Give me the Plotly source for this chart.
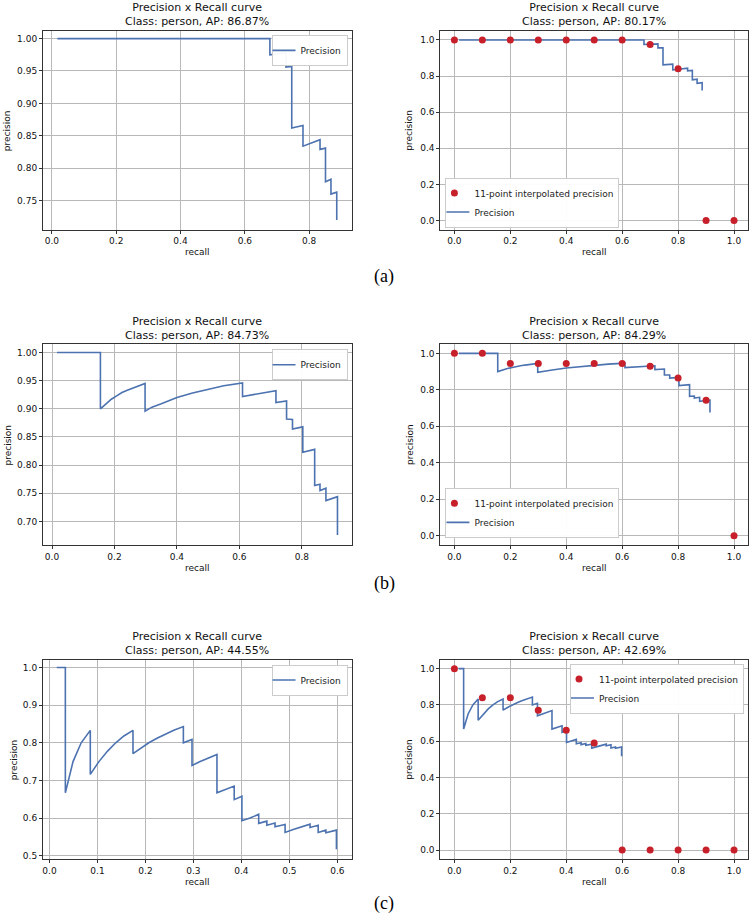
import plotly.graph_objects as go

W, H = 752, 921

# ---------------- data ----------------
recall_a = [0.017, 0.678, 0.678, 0.728, 0.728, 0.746, 0.746, 0.781, 0.781, 0.834, 0.834,
            0.851, 0.851, 0.868, 0.868, 0.886, 0.886]
precision_a = [1.0, 1.0, 0.975, 0.978, 0.956, 0.957, 0.862, 0.866, 0.834, 0.844, 0.829,
               0.831, 0.779, 0.783, 0.760, 0.763, 0.720]

recall_b = [0.016, 0.155, 0.155, 0.172, 0.190, 0.207, 0.224, 0.241, 0.259, 0.276, 0.298,
            0.298, 0.320, 0.350, 0.400, 0.450, 0.500, 0.550, 0.610, 0.610, 0.717, 0.717,
            0.751, 0.751, 0.770, 0.770, 0.803, 0.803, 0.841, 0.841, 0.858, 0.858, 0.877,
            0.877, 0.914, 0.914]
precision_b = [1.0, 1.0, 0.900, 0.909, 0.917, 0.923, 0.929, 0.933, 0.937, 0.941, 0.945,
               0.896, 0.903, 0.909, 0.920, 0.928, 0.935, 0.941, 0.946, 0.922, 0.932, 0.911,
               0.914, 0.882, 0.881, 0.864, 0.868, 0.823, 0.828, 0.764, 0.766, 0.755, 0.759,
               0.737, 0.744, 0.676]

recall_c = [0.015, 0.033, 0.033, 0.049, 0.066, 0.085, 0.085, 0.103, 0.121, 0.138, 0.155,
            0.174, 0.174, 0.190, 0.207, 0.224, 0.241, 0.259, 0.279, 0.279, 0.297, 0.297,
            0.314, 0.331, 0.349, 0.349, 0.367, 0.385, 0.385, 0.401, 0.401, 0.418, 0.436,
            0.436, 0.453, 0.453, 0.470, 0.470, 0.491, 0.491, 0.508, 0.525, 0.543, 0.543,
            0.560, 0.560, 0.576, 0.576, 0.598, 0.598]
precision_c = [1.0, 1.0, 0.667, 0.750, 0.800, 0.833, 0.716, 0.750, 0.778, 0.800, 0.818,
               0.833, 0.771, 0.786, 0.800, 0.812, 0.823, 0.833, 0.843, 0.800, 0.809, 0.740,
               0.750, 0.760, 0.769, 0.667, 0.677, 0.685, 0.649, 0.658, 0.593, 0.600, 0.610,
               0.586, 0.592, 0.581, 0.587, 0.577, 0.583, 0.562, 0.570, 0.577, 0.584, 0.575,
               0.581, 0.562, 0.568, 0.561, 0.568, 0.517]

interp_recall = [0.0, 0.1, 0.2, 0.3, 0.4, 0.5, 0.6, 0.7, 0.8, 0.9, 1.0]
interp_a = [1.0, 1.0, 1.0, 1.0, 1.0, 1.0, 1.0, 0.975, 0.84, 0.0, 0.0]
interp_b = [1.0, 1.0, 0.945, 0.945, 0.945, 0.945, 0.945, 0.93, 0.865, 0.743, 0.0]
interp_c = [1.0, 0.84, 0.84, 0.77, 0.66, 0.59, 0.0, 0.0, 0.0, 0.0, 0.0]

ap_labels = ["86.87%", "80.17%", "84.73%", "84.29%", "44.55%", "42.69%"]
captions = ["(a)", "(b)", "(c)"]

BLUE = "#4c72b0"
RED = "#c8202a"
FONT = "DejaVu Sans"

# ---------------- layout geometry (pixels) ----------------
cols = [(42, 351), (440, 748)]
rows = [(31, 230), (345, 546), (661, 861)]


def px(x):
    return x / W


def py(y):
    return 1 - y / H


fig = go.Figure()

panels = [
    # (curve_x, curve_y, interp, xrange, yrange, xticks, yticks, xfmt, yfmt)
    (recall_a, precision_a, None, [-0.028, 0.932], [0.7054, 1.0118],
     [0, 0.2, 0.4, 0.6, 0.8], [0.75, 0.80, 0.85, 0.90, 0.95, 1.00], ".1f", ".2f"),
    (recall_a, precision_a, interp_a, [-0.05, 1.05], [-0.05, 1.05],
     [0, 0.2, 0.4, 0.6, 0.8, 1.0], [0, 0.2, 0.4, 0.6, 0.8, 1.0], ".1f", ".1f"),
    (recall_b, precision_b, None, [-0.029, 0.959], [0.6585, 1.0147],
     [0, 0.2, 0.4, 0.6, 0.8], [0.70, 0.75, 0.80, 0.85, 0.90, 0.95, 1.00], ".1f", ".2f"),
    (recall_b, precision_b, interp_b, [-0.05, 1.05], [-0.05, 1.05],
     [0, 0.2, 0.4, 0.6, 0.8, 1.0], [0, 0.2, 0.4, 0.6, 0.8, 1.0], ".1f", ".1f"),
    (recall_c, precision_c, None, [-0.0137, 0.6295], [0.491, 1.021],
     [0, 0.1, 0.2, 0.3, 0.4, 0.5, 0.6], [0.5, 0.6, 0.7, 0.8, 0.9, 1.0], ".1f", ".1f"),
    (recall_c, precision_c, interp_c, [-0.05, 1.05], [-0.05, 1.05],
     [0, 0.2, 0.4, 0.6, 0.8, 1.0], [0, 0.2, 0.4, 0.6, 0.8, 1.0], ".1f", ".1f"),
]

ylabel_x = [6, 409, 7, 409, 13, 409]

annotations = []
layout_axes = {}

for i, (cx, cy, interp, xr, yr, xt, yt, xf, yf) in enumerate(panels):
    n = i + 1
    r, c = divmod(i, 2)
    x0, x1 = cols[c]
    y0, y1 = rows[r]
    xa = "x" if n == 1 else f"x{n}"
    ya = "y" if n == 1 else f"y{n}"
    lg = "legend" if n == 1 else f"legend{n}"

    fig.add_trace(go.Scatter(
        x=cx, y=cy, mode="lines", name="Precision",
        line=dict(color=BLUE, width=1.6), xaxis=xa, yaxis=ya,
        legend=lg, legendrank=2, showlegend=True))
    if interp is not None:
        fig.add_trace(go.Scatter(
            x=interp_recall, y=interp, mode="markers",
            name="11-point interpolated precision",
            marker=dict(color=RED, size=7), xaxis=xa, yaxis=ya,
            legend=lg, legendrank=1, showlegend=True))

    axis_common = dict(
        showgrid=True, gridcolor="#b8b8b8", gridwidth=1,
        showline=True, linecolor="#333333", linewidth=1, mirror=True,
        ticks="outside", ticklen=3, tickcolor="#333333",
        tickfont=dict(family=FONT, size=9, color="#111111"),
        zeroline=False, fixedrange=True,
    )
    layout_axes[("xaxis" if n == 1 else f"xaxis{n}")] = dict(
        axis_common, domain=[px(x0), px(x1)], range=xr, tickvals=xt,
        tickformat=xf, anchor=ya)
    layout_axes[("yaxis" if n == 1 else f"yaxis{n}")] = dict(
        axis_common, domain=[py(y1), py(y0)], range=yr, tickvals=yt,
        tickformat=yf, anchor=xa)

    # title
    annotations.append(dict(
        text=f"Precision x Recall curve<br>Class: person, AP: {ap_labels[i]}",
        x=px((x0 + x1) / 2), y=py(y0 - 16), xref="paper", yref="paper",
        xanchor="center", yanchor="middle", showarrow=False,
        font=dict(family=FONT, size=11, color="#111111")))
    # axis labels
    annotations.append(dict(
        text="recall", x=px((x0 + x1) / 2), y=py(y1 + 23), xref="paper", yref="paper",
        xanchor="center", yanchor="middle", showarrow=False,
        font=dict(family=FONT, size=9, color="#111111")))
    annotations.append(dict(
        text="precision", x=px(ylabel_x[i]), y=py((y0 + y1) / 2), xref="paper",
        yref="paper", xanchor="center", yanchor="middle", showarrow=False,
        textangle=-90, font=dict(family=FONT, size=9, color="#111111")))

cap_y = [277, 585, 905]
for k, cap in enumerate(captions):
    annotations.append(dict(
        text=cap, x=px(384), y=py(cap_y[k]), xref="paper", yref="paper",
        xanchor="center", yanchor="middle", showarrow=False,
        font=dict(family="Liberation Serif", size=18, color="#000000")))

legend_common = dict(
    bgcolor="rgba(255,255,255,0.95)", bordercolor="#cccccc", borderwidth=1,
    font=dict(family=FONT, size=9, color="#222222"), itemwidth=30,
    tracegroupgap=0, indentation=-12)

legends = {
    "legend": dict(legend_common, x=px(347), y=py(35), xanchor="right", yanchor="top"),
    "legend2": dict(legend_common, x=px(445), y=py(228), xanchor="left", yanchor="bottom"),
    "legend3": dict(legend_common, x=px(347), y=py(350), xanchor="right", yanchor="top"),
    "legend4": dict(legend_common, x=px(445), y=py(539), xanchor="left", yanchor="bottom"),
    "legend5": dict(legend_common, x=px(347), y=py(666), xanchor="right", yanchor="top"),
    "legend6": dict(legend_common, x=px(744), y=py(665), xanchor="right", yanchor="top"),
}

fig.update_layout(
    width=W, height=H, margin=dict(l=0, r=0, t=0, b=0),
    paper_bgcolor="white", plot_bgcolor="white",
    annotations=annotations, showlegend=True,
    **layout_axes, **legends)

fig.write_html(
    "out.html",
    config={"displayModeBar": False, "staticPlot": True},
    post_script="document.body.style.margin='0';document.body.style.overflow='hidden';")
